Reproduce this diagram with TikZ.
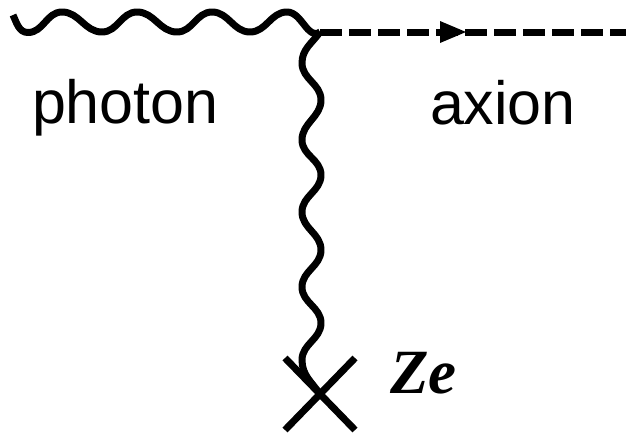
\documentclass[tikz,border=0pt]{standalone}
\usepackage{fontspec}
\setmainfont{Liberation Sans}
\newfontfamily\serifbi[BoldItalicFont={Liberation Serif Bold Italic}]{Liberation Serif}
\begin{document}
\begin{tikzpicture}[x=1pt,y=1pt,yscale=-1,
  wave/.style={line width=7pt,line join=round,black},
  axionline/.style={line width=7pt,black,dash pattern=on 21.7pt off 7.3pt},
  crossarm/.style={line width=7pt,black},
  label/.style={anchor=base west,inner sep=0pt,outer sep=0pt,font=\fontsize{61}{72}\selectfont},
  tip/.style={fill=black,draw=none}]
\useasboundingbox (0,0) rectangle (626,434);
\coordinate (photonstart) at (13,15);
\coordinate (vertex) at (320,32);
\coordinate (axionend) at (626,32);
\coordinate (charge) at (320,394);
\coordinate (xa) at (285,358);
\coordinate (xb) at (355,430);
\coordinate (xc) at (355,358);
\coordinate (xd) at (285,430);
% photon wave
\draw[wave] (photonstart) to[out=65,in=180] (28,32.5)
  to[out=0,in=180] (62,12) to[out=0,in=180] (102,32)
  to[out=0,in=180] (137,12) to[out=0,in=180] (177,32)
  to[out=0,in=180] (212,12) to[out=0,in=180] (250,32)
  to[out=0,in=180] (287,12) to[out=0,in=145] (vertex);
% exchanged photon
\draw[wave] (vertex) to[out=125,in=-90] (302,63)
  to[out=90,in=-90] (321,100) to[out=90,in=-90] (302,140)
  to[out=90,in=-90] (321,175) to[out=90,in=-90] (302,212)
  to[out=90,in=-90] (321,250) to[out=90,in=-90] (302,287)
  to[out=90,in=-90] (321,323) to[out=90,in=-90] (302,360)
  to[out=90,in=-125] (charge);
% axion
\draw[axionline] (vertex) -- (axionend);
\fill[tip] (440,21) -- (466,32) -- (440,43) -- cycle;
% cross
\draw[crossarm] (xa) -- (xb);
\draw[crossarm] (xc) -- (xd);
% labels
\node[label] (photon) at (32,123) {photon};
\node[label] (axion) at (430,124) {axion};
\node[label,font=\fontsize{63}{72}\serifbi\bfseries\itshape] (ze) at (390,393) {Ze};
\end{tikzpicture}
\end{document}
